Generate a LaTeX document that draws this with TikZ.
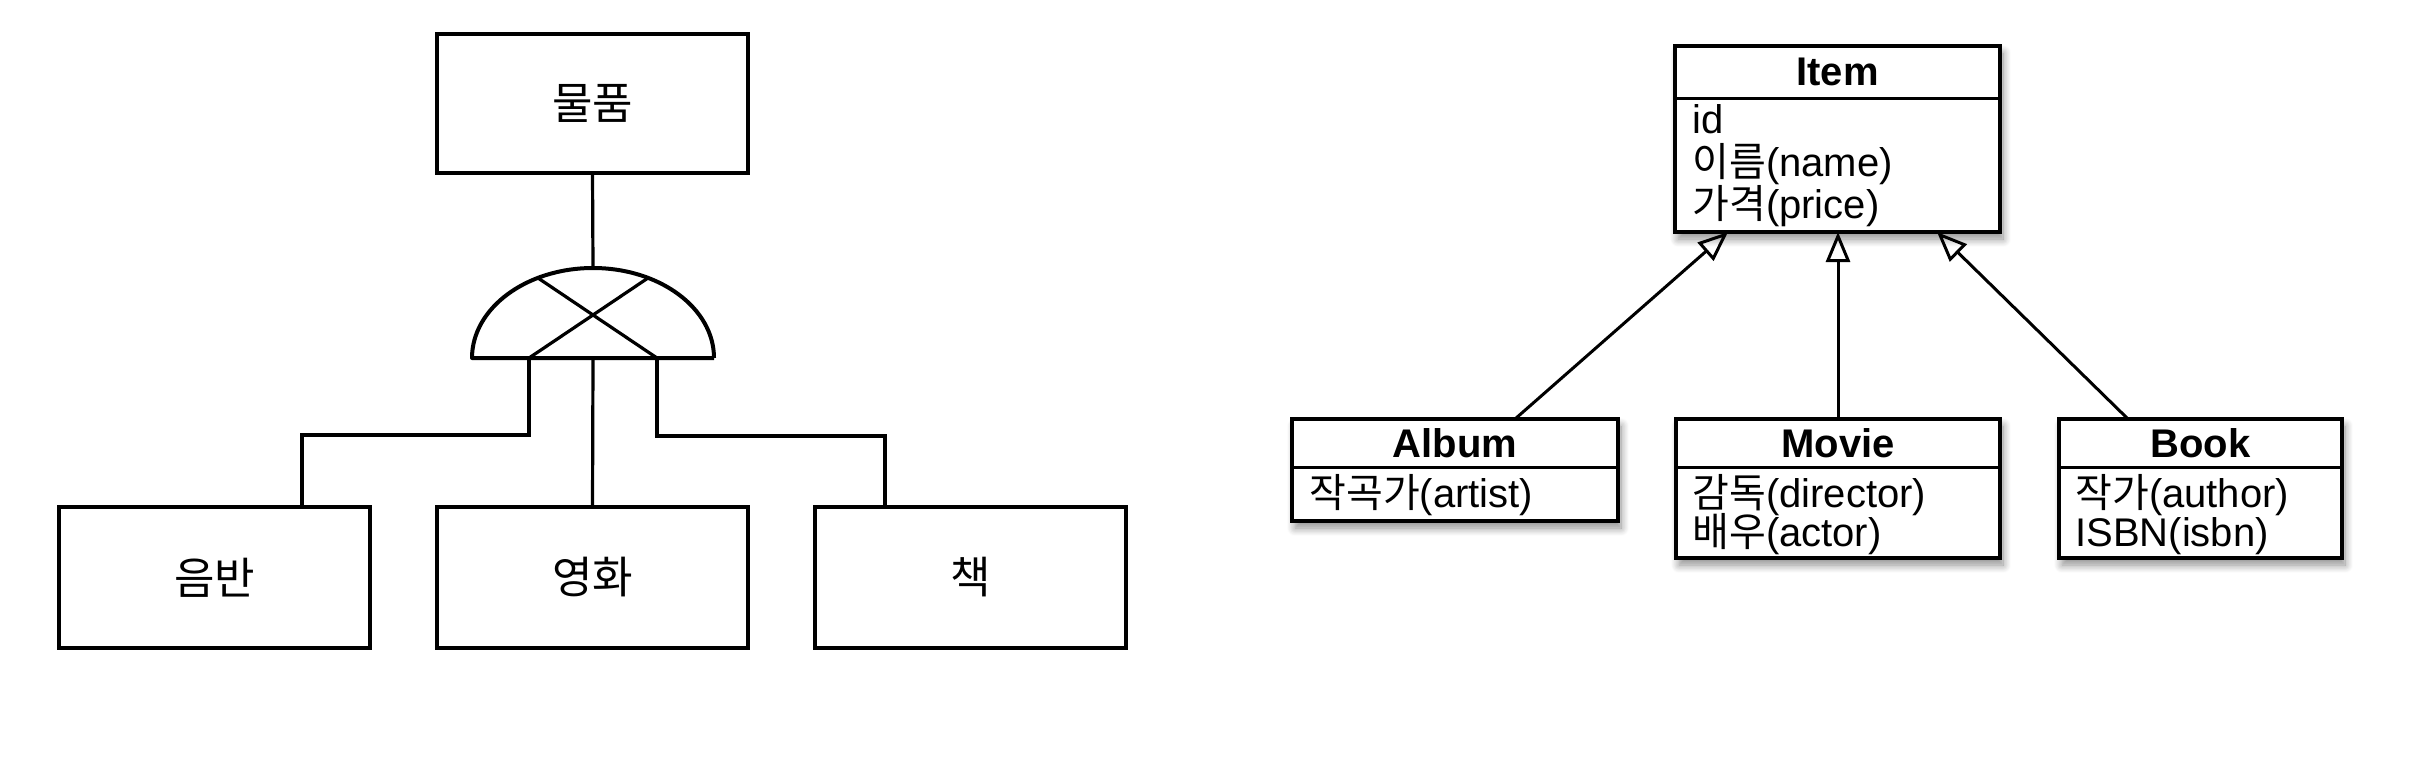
\documentclass[tikz,border=0pt]{standalone}
\usepackage{fontspec}
\setmainfont{Liberation Sans}
\newfontfamily\kr{Noto Sans CJK KR}
\usetikzlibrary{arrows.meta,shadows.blur}
\begin{document}
\begin{tikzpicture}[x=0.5pt,y=-0.5pt,
  erbox/.style={draw, line width=2pt, minimum width=155.5pt, minimum height=70.5pt, inner sep=0pt, outer sep=0pt, font=\kr\fontsize{22}{26}\selectfont},
  conn/.style={line width=1.6pt},
  cls/.style={draw, fill=white, line width=1.7pt, inner sep=0pt, outer sep=0pt,
    blur shadow={shadow xshift=1.5pt, shadow yshift=-3.5pt, shadow blur steps=10, shadow opacity=45, shadow blur radius=4pt}},
  ctitle/.style={font=\bfseries\fontsize{20}{24}\selectfont, inner sep=0pt, anchor=base},
  ctext/.style={font=\fontsize{20}{24}\selectfont, inner sep=0pt, anchor=base west},
  inh/.style={line width=1.5pt, -{Triangle[open, length=15pt, width=12pt, line width=1.5pt]}},
  divider/.style={line width=1.5pt}
]
\path[use as bounding box] (0,0) rectangle (2418,772);

% ---------------- left: ER notation ----------------
\node[erbox, minimum height=69.5pt] (top) at (592.5,103.5) {물품};
\node[erbox] (a) at (214.5,577.5) {음반};
\node[erbox] (b) at (592.5,577.5) {영화};
\node[erbox] (c) at (970.5,577.5) {책};

\coordinate (g) at (593,268);
\coordinate (gl) at (529,358);
\coordinate (gm) at (593,358);
\coordinate (gr) at (657,358);
\coordinate (bl) at (472,358);
\coordinate (br) at (714,358);

\draw[conn] (top.south) -- (g);
\draw[line width=2pt, line join=round] (br) -- (bl) arc[start angle=180, end angle=0, x radius=60.5pt, y radius=45pt];
\draw[conn] (538,278) -- (gr);
\draw[conn] (648,278) -- (gl);

\draw[conn] (gl) -- ++(0,77) -| ([xshift=43.75pt]a.north);
\draw[conn] (gm) -- (b.north);
\draw[conn] (gr) -- ++(0,78) -| ([xshift=-42.75pt]c.north);

% ---------------- right: UML ----------------
\node[cls, minimum width=162.5pt, minimum height=93pt] (item) at (1837.5,139) {};
\draw[divider] (item.west |- 0,98) -- (item.east |- 0,98);
\node[ctitle] (itemt) at (1837.5,85) {Item};
\node[ctext] (item1) at (1692,133) {id};
\node[ctext] (item2) at (1692,176) {{\kr 이름}(name)};
\node[ctext] (item3) at (1692,218) {{\kr 가격}(price)};

\node[cls, minimum width=163pt, minimum height=51pt] (album) at (1455,470) {};
\draw[divider] (album.west |- 0,467) -- (album.east |- 0,467);
\node[ctitle] (albumt) at (1455,457) {Album};
\node[ctext] (album1) at (1309,507) {{\kr 작곡가}(artist)};

\node[cls, minimum width=162pt, minimum height=69.5pt] (movie) at (1838,488.5) {};
\draw[divider] (movie.west |- 0,467) -- (movie.east |- 0,467);
\node[ctitle] (moviet) at (1838,457) {Movie};
\node[ctext] (movie1) at (1692,507) {{\kr 감독}(director)};
\node[ctext] (movie2) at (1692,546) {{\kr 배우}(actor)};

\node[cls, minimum width=141.5pt, minimum height=69.5pt] (book) at (2200.5,488.5) {};
\draw[divider] (book.west |- 0,467) -- (book.east |- 0,467);
\node[ctitle] (bookt) at (2200.5,457) {Book};
\node[ctext] (book1) at (2075,507) {{\kr 작가}(author)};
\node[ctext] (book2) at (2075,546) {ISBN(isbn)};

\draw[inh] ([xshift=30pt]album.north) -- ([xshift=-54.75pt]item.south);
\draw[inh] (movie.north) -- (movie.north |- item.south);
\draw[inh] ([xshift=-36.25pt]book.north) -- ([xshift=49.75pt]item.south);
\end{tikzpicture}
\end{document}
